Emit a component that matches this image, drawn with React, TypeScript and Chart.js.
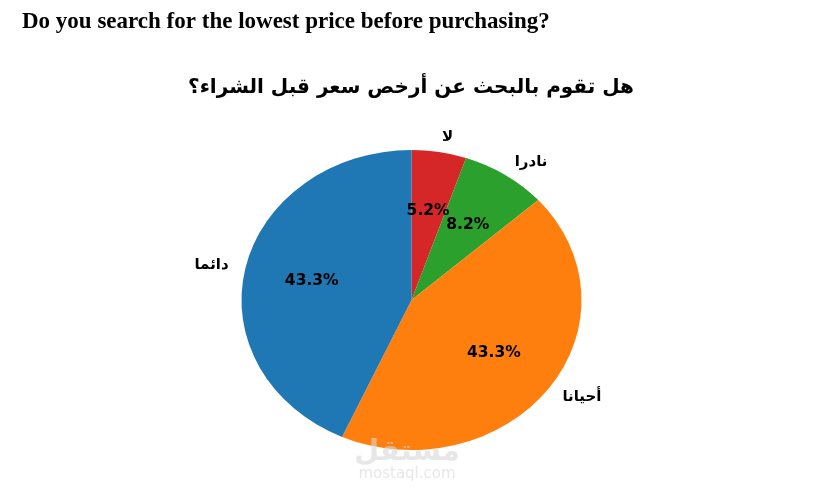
import React, { useEffect, useRef } from "react";
import { Chart, registerables } from "chart.js";

Chart.register(...registerables);

const heading = "Do you search for the lowest price before purchasing?";
const chartTitle = "هل تقوم بالبحث عن أرخص سعر قبل الشراء؟";
const categories = ["لا", "نادرا", "أحيانا", "دائما"];
const values = [5.2, 8.2, 43.3, 43.3];
const colors = ["#d62728", "#2ca02c", "#ff7f0e", "#1f77b4"];

const Y_SCALE = 150 / 170;

const ellipsePlugin = {
  id: "ellipse",
  beforeDatasetsDraw(chart: any) {
    const { ctx, chartArea } = chart;
    const cx = (chartArea.left + chartArea.right) / 2;
    const cy = (chartArea.top + chartArea.bottom) / 2;
    ctx.save();
    ctx.translate(cx, cy);
    ctx.scale(1, Y_SCALE);
    ctx.translate(-cx, -cy);
  },
  afterDatasetsDraw(chart: any) {
    chart.ctx.restore();
  },
};

const textPlugin = {
  id: "texts",
  afterDraw(chart: any) {
    const { ctx } = chart;
    const meta = chart.getDatasetMeta(0);
    const total = values.reduce((a, b) => a + b, 0);
    ctx.save();
    // heading
    ctx.fillStyle = "#000";
    ctx.textAlign = "left";
    ctx.textBaseline = "alphabetic";
    ctx.font = "bold 23px 'Liberation Serif', 'Times New Roman', serif";
    ctx.fillText(heading, 22, 28);
    // title
    ctx.textAlign = "center";
    ctx.font = "bold 20px 'DejaVu Sans'";
    ctx.fillText(chartTitle, 411, 93);
    // watermark
    ctx.fillStyle = "rgba(215,215,215,0.6)";
    ctx.font = "bold 29px 'DejaVu Sans'";
    ctx.fillText("مستقل", 407, 460);
    ctx.font = "15px 'DejaVu Sans'";
    ctx.fillText("mostaql.com", 407, 478);

    meta.data.forEach((arc: any, i: number) => {
      const a = (arc.startAngle + arc.endAngle) / 2;
      const r = arc.outerRadius;
      const cx = arc.x;
      const cy = arc.y;
      const cos = Math.cos(a);
      const sin = Math.sin(a);
      // percentage
      ctx.fillStyle = "#000";
      ctx.textBaseline = "middle";
      ctx.textAlign = "center";
      ctx.font = "bold 15.5px 'DejaVu Sans'";
      const pct = ((values[i] / total) * 100).toFixed(1) + "%";
      ctx.fillText(pct, cx + 0.6 * r * cos, cy + 0.6 * r * sin * Y_SCALE);
      // label
      ctx.font = "bold 15px 'DejaVu Sans'";
      ctx.textAlign = cos >= 0 ? "left" : "right";
      ctx.fillText(categories[i], cx + 1.1 * r * cos, cy + 1.1 * r * sin * Y_SCALE);
    });
    ctx.restore();
  },
};

export default function App() {
  const ref = useRef<HTMLCanvasElement | null>(null);
  useEffect(() => {
    if (!ref.current) return;
    const chart = new Chart(ref.current, {
      type: "pie",
      data: {
        labels: categories,
        datasets: [
          {
            data: values,
            backgroundColor: colors,
            borderWidth: 0,
          },
        ],
      },
      options: {
        animation: false,
        responsive: false,
        maintainAspectRatio: false,
        layout: { padding: { left: 241, right: 233, top: 130, bottom: 21 } },
        plugins: {
          legend: { display: false },
          tooltip: { enabled: false },
          title: { display: false },
        },
      },
      plugins: [ellipsePlugin, textPlugin],
    });
    return () => chart.destroy();
  }, []);
  return (
    <div style={{ position: "absolute", left: 0, top: 0, width: 815, height: 491, background: "#fff" }}>
      <canvas ref={ref} width={815} height={491} style={{ width: 815, height: 491, display: "block" }} />
    </div>
  );
}
